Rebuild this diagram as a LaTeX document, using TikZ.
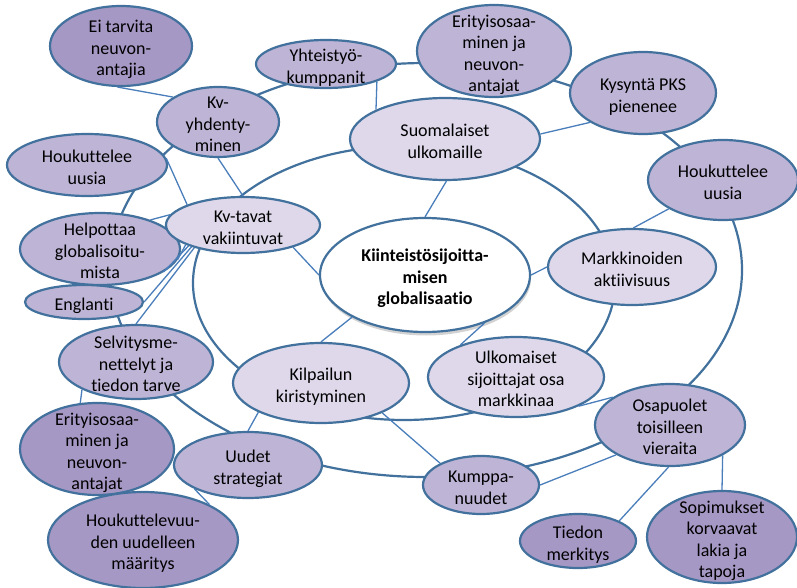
\documentclass[tikz,border=0pt]{standalone}
\usepackage{fontspec}
\setmainfont{Carlito}[Ligatures=NoCommon]
\usetikzlibrary{shapes.geometric}

\definecolor{rimblue}{RGB}{65,113,156}
\definecolor{linkblue}{RGB}{74,126,187}
\definecolor{fillpale}{RGB}{222,216,234}
\definecolor{fillmid}{RGB}{190,180,214}
\definecolor{filldeep}{RGB}{166,152,196}

% text block that does not enlarge the ellipse around it
\newcommand\bubtxt[1]{\makebox[0pt]{\smash{\raisebox{-8.5pt}{\begin{tabular}{@{}c@{}}#1\end{tabular}}}}}

\tikzset{
  bubble/.style={ellipse, draw=rimblue, line width=2.2pt, inner sep=0pt,
    font=\fontsize{18}{21.5}\selectfont},
  palebub/.style={bubble, fill=fillpale},
  midbub/.style={bubble, fill=fillmid},
  deepbub/.style={bubble, fill=filldeep},
  ring/.style={ellipse, draw=rimblue, line width=2.2pt, inner sep=0pt},
  thinlink/.style={draw=linkblue, line width=1.3pt},
}

\begin{document}
\begin{tikzpicture}[x=1pt,y=-1pt]
\useasboundingbox (0,0) rectangle (797,588);

% the two large rings
\node[ring, minimum width=632pt, minimum height=414pt] (outerring) at (426,270) {};
\node[ring, minimum width=422pt, minimum height=274pt] (innerring) at (404,283) {};

% outer ring bubbles
\node[deepbub, minimum width=142pt, minimum height=80pt] (eitarvita) at (121,46) {\bubtxt{Ei tarvita\\neuvon-\\antajia}};
\node[midbub, minimum width=140pt, minimum height=48pt] (yhteistyo) at (326,64) {\bubtxt{Yhteistyö-\\kumppanit}};
\node[midbub, minimum width=154pt, minimum height=92pt] (erittop) at (494,51) {\bubtxt{Erityisosaa-\\minen ja\\neuvon-\\antajat}};
\node[midbub, minimum width=146pt, minimum height=82pt] (kysynta) at (643,93) {\bubtxt{Kysyntä PKS\\pienenee}};
\node[midbub, minimum width=122pt, minimum height=70pt] (kvyhd) at (218,122) {\bubtxt{Kv-\\yhdenty-\\minen}};
\node[midbub, minimum width=160pt, minimum height=62pt] (houkleft) at (87,165) {\bubtxt{Houkuttelee\\uusia}};
\node[midbub, minimum width=150pt, minimum height=80pt] (houkright) at (723,180) {\bubtxt{Houkuttelee\\uusia}};
\node[midbub, minimum width=160pt, minimum height=72pt] (helpottaa) at (100,249) {\bubtxt{Helpottaa\\globalisoitu-\\mista}};
\node[midbub, minimum width=118pt, minimum height=34pt] (englanti) at (84,302) {\bubtxt{Englanti}};
\node[midbub, minimum width=154pt, minimum height=74pt] (selvitys) at (136,362) {\bubtxt{Selvitysme-\\nettelyt ja\\tiedon tarve}};
\node[deepbub, minimum width=154pt, minimum height=92pt] (eritleft) at (97,449) {\bubtxt{Erityisosaa-\\minen ja\\neuvon-\\antajat}};
\node[deepbub, minimum width=190pt, minimum height=96pt] (houkmaar) at (143,540) {\bubtxt{Houkuttelevuu-\\den uudelleen\\määritys}};
\node[midbub, minimum width=148pt, minimum height=66pt] (uudet) at (248,465) {\bubtxt{Uudet\\strategiat}};
\node[midbub, minimum width=116pt, minimum height=58pt] (kumppa) at (481,485) {\bubtxt{Kumppa-\\nuudet}};
\node[midbub, minimum width=150pt, minimum height=82pt] (osapuolet) at (670,425) {\bubtxt{Osapuolet\\toisilleen\\vieraita}};
\node[deepbub, minimum width=116pt, minimum height=54pt] (tiedon) at (578,541) {\bubtxt{Tiedon\\merkitys}};
\node[deepbub, minimum width=150pt, minimum height=92pt] (sopimukset) at (722,537) {\bubtxt{Sopimukset\\korvaavat\\lakia ja\\tapoja}};

% inner ring bubbles
\node[palebub, minimum width=190pt, minimum height=82pt] (suomalaiset) at (445,139) {\bubtxt{Suomalaiset\\ulkomaille}};
\node[palebub, minimum width=154pt, minimum height=56pt] (kvtavat) at (243,225) {\bubtxt{Kv-tavat\\vakiintuvat}};
\node[palebub, minimum width=168pt, minimum height=76pt] (markk) at (632,267) {\bubtxt{Markkinoiden\\aktiivisuus}};
\node[palebub, minimum width=176pt, minimum height=80pt] (kilpailun) at (321,383) {\bubtxt{Kilpailun\\kiristyminen}};
\node[palebub, minimum width=176pt, minimum height=80pt] (ulkom) at (516,377) {\bubtxt{Ulkomaiset\\sijoittajat osa\\markkinaa}};

% central theme with its soft shadow
\node[ellipse, fill=gray!35, minimum width=210pt, minimum height=114pt, inner sep=0pt] (coreshadow) at (426,278.5) {};
\node[bubble, fill=white, minimum width=210pt, minimum height=114pt,
      font=\fontsize{18}{21.5}\selectfont\bfseries] (core) at (425,275) {\bubtxt{Kiinteistösijoitta-\\misen\\globalisaatio}};

% thin links
\draw[thinlink] (eitarvita.-95) -- (kvyhd.151);
\draw[thinlink] (kvyhd.south) -- (kvtavat.north);
\draw[thinlink] (houkleft.5) -- (kvtavat.160);
\draw[thinlink] (helpottaa.30) -- (kvtavat.172);
\draw[thinlink] (kvtavat.199) -- (helpottaa.-8);
\draw[thinlink] (kvtavat.201) -- (helpottaa.-20);
\draw[thinlink] (kvtavat.203) -- (englanti.east);
\draw[thinlink] (kvtavat.205) -- (selvitys.north);
\draw[thinlink] (yhteistyo.-19) -- (suomalaiset.157);
\draw[thinlink] (suomalaiset.3) -- (kysynta.209);
\draw[thinlink] (suomalaiset.-88) -- (core.north);
\draw[thinlink] (kvtavat.-24) -- (core.west);
\draw[thinlink] (core.east) -- (markk.west);
\draw[thinlink] (markk.88) -- (houkright.208);
\draw[thinlink] (core.210) -- (kilpailun.north);
\draw[thinlink] (core.-39) -- (ulkom.150);
\draw[thinlink] (ulkom.-25) -- (osapuolet.154);
\draw[thinlink] (kumppa.east) -- (osapuolet.209);
\draw[thinlink] (osapuolet.-92) -- (tiedon.26);
\draw[thinlink] (osapuolet.-30) -- (sopimukset.north);
\draw[thinlink] (kilpailun.205) -- (uudet.north);
\draw[thinlink] (uudet.204) -- (houkmaar.28);
\draw[thinlink] (selvitys.207) -- (eritleft.110);
\draw[thinlink] (kilpailun.-26) -- (kumppa.152);
\end{tikzpicture}
\end{document}
